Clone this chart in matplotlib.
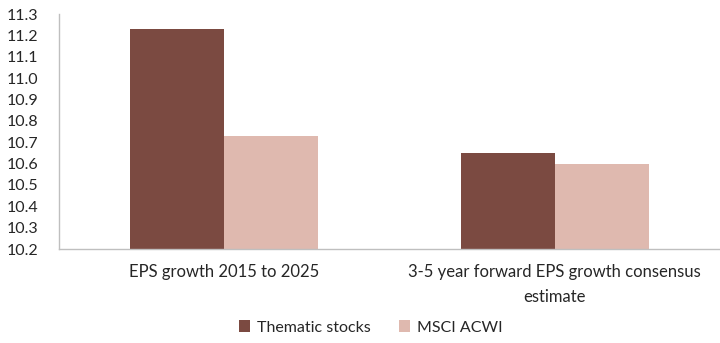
import matplotlib
matplotlib.use("Agg")
import matplotlib.pyplot as plt
import numpy as np

categories = ["EPS growth 2015 to 2025", "3-5 year forward EPS growth consensus\nestimate"]
series_names = ["Thematic stocks", "MSCI ACWI"]
thematic = [11.23, 10.65]
msci = [10.73, 10.60]
yticks = [10.2, 10.3, 10.4, 10.5, 10.6, 10.7, 10.8, 10.9, 11.0, 11.1, 11.2, 11.3]

plt.rcParams['font.family'] = ['Lato', 'DejaVu Sans']
dark = "#7B4A41"
light = "#DFB9AF"
txt = "#262626"

fig = plt.figure(figsize=(7.2, 3.43), dpi=100)
ax = fig.add_axes([0.082, 0.274, 0.918, 0.685])
x = np.arange(len(categories))
w = 0.285
ax.bar(x - w/2, np.array(thematic) - 10.2, w, bottom=10.2, color=dark, label=series_names[0])
ax.bar(x + w/2, np.array(msci) - 10.2, w, bottom=10.2, color=light, label=series_names[1])
ax.set_xlim(-0.5, 1.5)
ax.set_ylim(10.2, 11.3)
ax.set_yticks(yticks)
ax.set_yticklabels([f"{v:.1f}" for v in yticks])
ax.set_xticks(x)
ax.set_xticklabels(categories, linespacing=1.7)
ax.tick_params(axis='y', length=0, pad=15, labelsize=11.5, labelcolor=txt)
ax.tick_params(axis='x', length=0, pad=11, labelsize=12, labelcolor=txt)
for s in ['top', 'right']:
    ax.spines[s].set_visible(False)
for s in ['left', 'bottom']:
    ax.spines[s].set_color("#BFBFBF")
    ax.spines[s].set_linewidth(1)

fig.legend(loc='center', bbox_to_anchor=(0.515, 0.045), ncol=2, frameon=False,
           fontsize=11.5, handlelength=0.7, handleheight=0.7, columnspacing=1.8,
           handletextpad=0.4, labelcolor=txt)
fig.savefig("out.png", dpi=100)
